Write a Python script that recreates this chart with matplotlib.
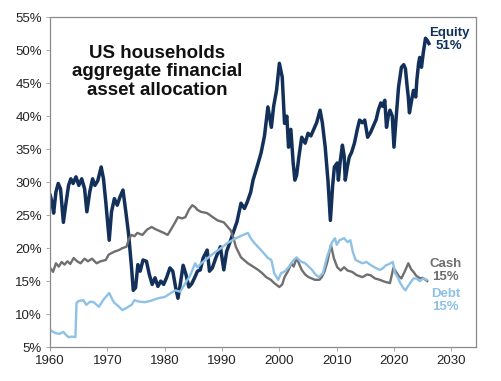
import matplotlib
matplotlib.use('Agg')
import matplotlib.pyplot as plt
from matplotlib.ticker import FuncFormatter

plt.rcParams['font.family'] = ['Liberation Sans', 'DejaVu Sans']

# Equity share of household financial assets (%)
equity_years = [1960.0, 1960.3, 1960.6, 1961.0, 1961.4, 1961.8, 1962.3, 1962.7, 1963.2, 1963.6,
                1964.0, 1964.5, 1965.0, 1965.5, 1966.0, 1966.4, 1966.9, 1967.4, 1967.8, 1968.3,
                1968.9, 1969.3, 1969.7, 1970.3, 1970.7, 1971.2, 1971.7, 1972.2, 1972.7, 1973.2,
                1973.7, 1974.2, 1974.5, 1974.9, 1975.3, 1975.7, 1976.2, 1976.8, 1977.3, 1977.8,
                1978.3, 1978.8, 1979.3, 1979.8, 1980.3, 1980.9, 1981.4, 1981.9, 1982.3, 1982.7,
                1983.2, 1983.7, 1984.2, 1984.7, 1985.2, 1985.7, 1986.2, 1986.7, 1987.4, 1987.8,
                1988.3, 1988.9, 1989.7, 1990.3, 1990.8, 1991.5, 1992.0, 1992.6, 1993.3, 1993.9,
                1994.4, 1995.0, 1995.4, 1996.0, 1996.8, 1997.4, 1998.0, 1998.6, 1999.0, 1999.5,
                2000.0, 2000.5, 2000.9, 2001.3, 2001.6, 2002.0, 2002.4, 2002.7, 2003.0, 2003.4,
                2003.9, 2004.5, 2005.0, 2005.5, 2006.0, 2006.5, 2007.1, 2007.5, 2008.0, 2008.5,
                2008.9, 2009.3, 2009.6, 2010.1, 2010.3, 2010.6, 2011.0, 2011.3, 2011.5, 2011.9,
                2012.2, 2012.6, 2013.1, 2013.6, 2014.0, 2014.5, 2014.9, 2015.4, 2015.9, 2016.3,
                2016.9, 2017.3, 2017.7, 2018.0, 2018.4, 2018.7, 2019.0, 2019.3, 2019.7, 2020.0,
                2020.4, 2020.8, 2021.3, 2021.7, 2022.0, 2022.3, 2022.5, 2022.7, 2023.0, 2023.4,
                2023.8, 2024.0, 2024.3, 2024.5, 2024.8, 2025.1, 2025.5, 2025.8, 2026.1]
equity_vals = [28.0, 27.0, 25.3, 28.5, 29.8, 29.0, 23.9, 26.5, 29.5, 30.5,
               29.8, 30.8, 29.5, 30.5, 29.0, 25.5, 28.5, 30.5, 29.5, 30.2,
               32.3, 30.5, 27.0, 21.2, 25.5, 27.5, 26.5, 27.8, 28.8, 25.5,
               22.0, 17.0, 13.6, 14.0, 17.5, 16.5, 18.2, 18.0, 16.0, 14.5,
               15.5, 14.2, 15.0, 14.5, 15.5, 17.0, 16.5, 14.0, 12.4, 14.5,
               17.4, 16.0, 14.1, 14.6, 15.5, 16.5, 16.7, 18.5, 19.7, 16.5,
               17.0, 18.5, 20.2, 16.7, 19.5, 21.2, 22.5, 24.0, 26.8, 26.0,
               27.0, 28.5, 30.3, 32.0, 34.4, 37.0, 41.4, 38.3, 41.5, 43.9,
               48.0, 45.9, 38.9, 40.0, 35.3, 38.0, 33.0, 30.3, 31.0, 33.8,
               36.8, 35.9, 37.4, 37.0, 38.0, 39.0, 40.9, 39.0, 35.3, 30.0,
               24.2, 29.5, 32.3, 32.9, 30.3, 33.0, 35.6, 34.0, 30.3, 32.5,
               33.8, 34.5, 35.9, 38.0, 39.4, 39.0, 39.4, 36.8, 37.5, 38.3,
               39.5, 41.0, 42.0, 41.5, 42.4, 38.3, 40.0, 40.9, 40.0, 35.3,
               40.0, 44.4, 47.4, 47.8, 47.2, 44.5, 42.9, 40.5, 42.0, 43.9,
               42.9, 45.5, 48.0, 48.9, 47.4, 49.5, 51.8, 51.5, 51.0]

# Cash share (%)
cash_years = [1960.0, 1960.5, 1961.0, 1961.5, 1962.0, 1962.5, 1963.0, 1963.5, 1964.1, 1964.7,
              1965.3, 1966.0, 1966.6, 1967.3, 1968.1, 1968.8, 1969.7, 1970.2, 1970.6, 1971.3,
              1972.0, 1972.6, 1973.3, 1973.8, 1974.2, 1974.7, 1975.2, 1976.1, 1976.9, 1977.7,
              1978.3, 1978.8, 1979.6, 1980.5, 1981.2, 1981.8, 1982.3, 1983.0, 1983.6, 1984.2,
              1984.8, 1985.3, 1985.7, 1986.3, 1987.4, 1988.2, 1989.2, 1990.3, 1991.0, 1991.5,
              1992.0, 1992.4, 1993.3, 1994.5, 1995.4, 1996.3, 1997.0, 1997.7, 1998.5, 1999.1,
              2000.0, 2000.5, 2000.9, 2001.5, 2002.1, 2002.5, 2003.0, 2003.5, 2003.9, 2004.5,
              2005.1, 2006.2, 2007.0, 2007.4, 2007.9, 2008.4, 2009.0, 2009.5, 2010.1, 2010.7,
              2011.3, 2011.9, 2012.7, 2013.5, 2014.5, 2015.3, 2015.9, 2016.7, 2017.5, 2018.4,
              2019.3, 2019.9, 2020.3, 2020.8, 2021.3, 2021.9, 2022.5, 2023.0, 2023.4, 2023.9,
              2024.6, 2025.0, 2025.5, 2025.8]
cash_vals = [17.0, 16.4, 17.7, 17.2, 17.9, 17.5, 18.0, 17.6, 18.5, 18.0,
             17.7, 18.4, 18.0, 18.4, 17.7, 18.0, 18.2, 19.0, 19.2, 19.5,
             19.7, 20.0, 20.2, 21.5, 22.0, 21.8, 22.3, 22.0, 22.8, 23.2,
             22.9, 22.7, 22.4, 22.0, 23.0, 23.9, 24.7, 24.5, 24.7, 25.8,
             26.5, 26.2, 25.8, 25.5, 25.3, 24.8, 24.2, 23.9, 23.2, 22.7,
             21.5, 20.2, 18.6, 17.7, 17.2, 16.7, 16.2, 15.6, 15.2, 14.7,
             14.1, 14.5, 15.6, 16.5, 17.7, 17.2, 18.5, 17.5, 16.7, 16.0,
             15.6, 15.2, 15.2, 15.6, 16.5, 18.0, 20.5, 18.5, 17.1, 16.6,
             17.1, 16.6, 16.4, 15.9, 15.6, 16.0, 15.9, 15.4, 15.2, 14.9,
             14.7, 17.0, 16.5, 15.8, 15.4, 16.5, 17.7, 16.8, 16.4, 15.8,
             15.4, 15.5, 15.2, 15.0]

# Debt share (%)
debt_years = [1960.0, 1960.5, 1961.0, 1961.6, 1962.3, 1962.8, 1963.2, 1963.8, 1964.4, 1964.6,
              1965.0, 1965.8, 1966.3, 1967.0, 1967.6, 1968.5, 1969.3, 1970.3, 1970.8, 1971.2,
              1971.9, 1972.6, 1973.4, 1974.2, 1974.7, 1975.5, 1976.5, 1977.5, 1978.8, 1980.0,
              1980.9, 1981.8, 1982.7, 1983.6, 1984.4, 1985.3, 1985.7, 1986.5, 1987.5, 1988.5,
              1989.5, 1991.0, 1992.0, 1992.9, 1994.5, 1995.0, 1995.6, 1996.8, 1998.0, 1998.6,
              1999.1, 1999.8, 2000.3, 2001.0, 2001.6, 2002.5, 2003.0, 2003.7, 2004.5, 2005.1,
              2005.7, 2006.3, 2006.9, 2007.6, 2008.3, 2009.2, 2009.7, 2010.0, 2010.5, 2011.3,
              2011.9, 2012.4, 2012.8, 2013.3, 2014.5, 2015.2, 2016.0, 2016.8, 2017.5, 2018.0,
              2018.6, 2019.2, 2019.8, 2020.2, 2020.7, 2021.1, 2021.6, 2022.0, 2022.5, 2022.9,
              2023.4, 2023.9, 2024.5, 2025.1, 2025.7]
debt_vals = [7.6, 7.3, 7.1, 7.0, 7.3, 6.8, 6.5, 6.6, 6.5, 11.7,
             12.0, 12.1, 11.4, 11.9, 11.8, 11.1, 12.2, 13.2, 12.3, 11.7,
             11.2, 10.6, 11.0, 11.4, 12.1, 11.9, 11.8, 12.0, 12.4, 12.6,
             13.1, 13.6, 13.4, 14.7, 15.8, 17.7, 17.1, 17.8, 18.5, 19.2,
             19.8, 20.8, 21.3, 21.7, 22.3, 21.5, 20.8, 19.7, 18.5, 18.2,
             16.2, 15.2, 16.2, 16.5, 17.1, 18.2, 18.6, 18.0, 17.7, 17.2,
             16.7, 16.0, 15.6, 16.2, 18.6, 20.9, 21.5, 20.5, 21.2, 21.5,
             20.9, 21.2, 19.5, 18.2, 17.7, 17.9, 17.4, 17.0, 16.7, 16.9,
             17.4, 17.6, 17.9, 16.2, 15.5, 14.7, 14.0, 13.6, 14.3, 14.8,
             15.4, 15.4, 15.0, 15.4, 15.2]

x_ticks = [1960, 1970, 1980, 1990, 2000, 2010, 2020, 2030]
y_ticks = [5, 10, 15, 20, 25, 30, 35, 40, 45, 50, 55]

equity_color = '#12305a'
cash_color = '#6f6f6f'
debt_color = '#8dc1e6'

fig = plt.figure(figsize=(5.02, 3.81), dpi=100, facecolor='white')
ax = fig.add_axes([0.1, 0.089, 0.848, 0.866])

ax.plot(equity_years, equity_vals, color=equity_color, linewidth=2.5, solid_joinstyle='round')
ax.plot(cash_years, cash_vals, color=cash_color, linewidth=1.7)
ax.plot(debt_years, debt_vals, color=debt_color, linewidth=1.7)

ax.set_xlim(1960, 2034.3)
ax.set_ylim(5, 55)
ax.set_xticks(x_ticks)
ax.set_yticks(y_ticks)
ax.yaxis.set_major_formatter(FuncFormatter(lambda v, p: f"{v:.0f}%"))
ax.tick_params(labelsize=9.5, colors='#222222', length=3, width=0.6, pad=3)
ax.tick_params(axis='both', color='#999999')

for side in ['left', 'right', 'top', 'bottom']:
    ax.spines[side].set_linestyle((0, (1, 1)))
    ax.spines[side].set_color('#8a8a8a')
    ax.spines[side].set_linewidth(0.9)

# Title inside plot
ax.text(1978.6, 46.7, "US households\naggregate financial\nasset allocation",
        ha='center', va='center', fontsize=13.5, fontweight='bold',
        color='#111111', linespacing=1.12)

# End labels
ax.text(2029.6, 51.6, "Equity\n51%", ha='center', va='center', fontsize=9.5,
        fontweight='bold', color=equity_color, linespacing=1.1)
ax.text(2029.0, 16.6, "Cash\n15%", ha='center', va='center', fontsize=9.5,
        fontweight='bold', color=cash_color, linespacing=1.1)
ax.text(2029.0, 12.0, "Debt\n15%", ha='center', va='center', fontsize=9.5,
        fontweight='bold', color=debt_color, linespacing=1.1)

fig.savefig('out.png', dpi=100, facecolor='white')
plt.close(fig)
